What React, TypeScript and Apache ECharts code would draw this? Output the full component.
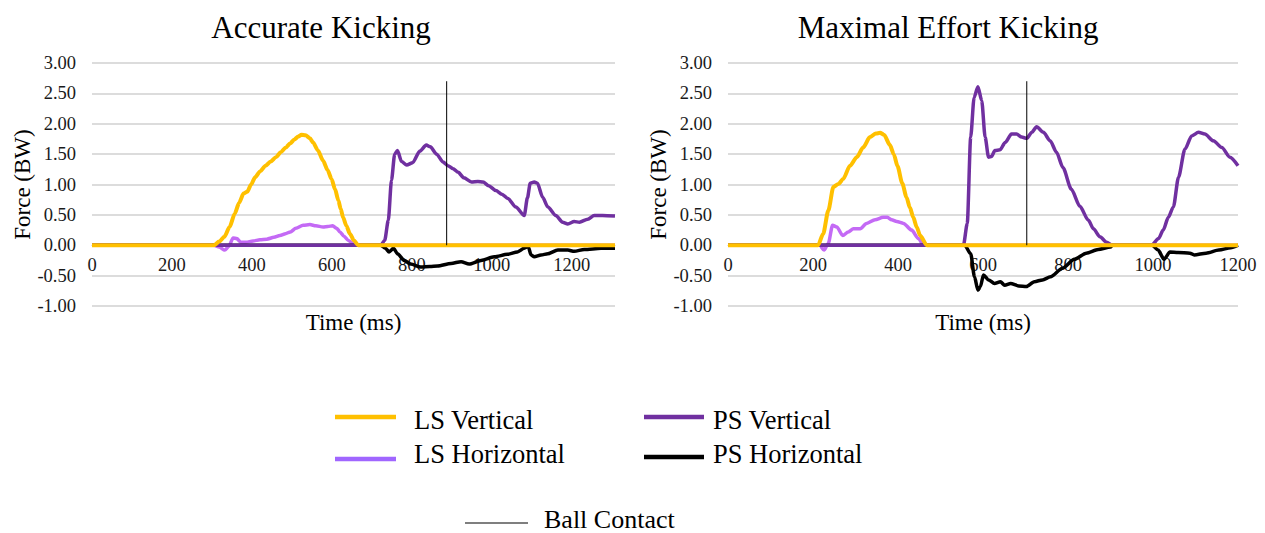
import React, { useEffect, useRef } from "react";
import * as echarts from "echarts";

// ---------- DATA ----------
const chartTitles = ["Accurate Kicking", "Maximal Effort Kicking"];
const seriesNames = ["LS Vertical", "LS Horizontal", "PS Vertical", "PS Horizontal"];
const ballContactName = "Ball Contact";
const xAxisName = "Time (ms)";
const yAxisName = "Force (BW)";
const xMaxAccurate = 1308;
const xMaxMaximal = 1200;

// Accurate kicking: [time ms, force BW]
const accLSV = [[0,0],[305,0],[318,0.06],[331,0.14],[344,0.3],[357,0.52],[368,0.7],[379,0.85],[388,0.88],[398,1.0],[408,1.12],[421,1.22],[434,1.31],[447,1.38],[460,1.45],[472,1.53],[485,1.61],[496,1.68],[506,1.74],[516,1.79],[524,1.82],[534,1.81],[545,1.76],[553,1.69],[565,1.56],[578,1.39],[589,1.24],[599,1.09],[608,0.92],[616,0.74],[622,0.6],[628,0.46],[636,0.32],[645,0.19],[655,0.08],[666,0],[1308,0]];
const accLSH = [[0,0],[305,0],[318,-0.03],[332,-0.08],[342,-0.02],[353,0.12],[362,0.11],[372,0.05],[385,0.05],[403,0.07],[420,0.09],[437,0.1],[455,0.13],[470,0.16],[484,0.19],[496,0.22],[510,0.28],[528,0.33],[545,0.34],[560,0.32],[578,0.3],[590,0.31],[602,0.32],[612,0.28],[620,0.22],[630,0.15],[641,0.08],[658,0],[1308,0]];
const accPSV = [[0,0],[722,0],[732,0.08],[741,0.41],[749,1.07],[757,1.5],[764,1.56],[774,1.38],[787,1.32],[802,1.36],[820,1.55],[836,1.65],[846,1.62],[862,1.5],[878,1.37],[890,1.31],[903,1.26],[916,1.2],[930,1.11],[949,1.04],[965,1.05],[978,1.04],[992,0.98],[1010,0.9],[1025,0.84],[1040,0.77],[1060,0.63],[1081,0.49],[1089,0.78],[1096,1.02],[1106,1.04],[1114,1.02],[1127,0.79],[1140,0.63],[1160,0.49],[1177,0.38],[1190,0.35],[1206,0.39],[1219,0.38],[1240,0.43],[1256,0.49],[1277,0.49],[1308,0.48]];
const accPSH = [[0,0],[722,0],[734,-0.05],[743,-0.11],[754,-0.05],[764,-0.14],[781,-0.25],[797,-0.31],[822,-0.36],[845,-0.35],[864,-0.34],[898,-0.3],[923,-0.27],[943,-0.31],[973,-0.25],[1006,-0.19],[1039,-0.15],[1064,-0.11],[1081,-0.05],[1091,-0.02],[1098,-0.16],[1106,-0.19],[1123,-0.16],[1140,-0.14],[1165,-0.08],[1190,-0.08],[1206,-0.1],[1231,-0.07],[1273,-0.05],[1308,-0.05]];
const accBallContact = 887;

// Maximal effort kicking
const maxLSV = [[0,0],[212,0],[224,0.19],[236,0.57],[248,0.96],[260,1.01],[271,1.09],[287,1.31],[303,1.45],[318,1.61],[334,1.78],[348,1.84],[358,1.85],[367,1.82],[381,1.65],[390,1.5],[399,1.3],[410,1.02],[420,0.79],[428,0.62],[436,0.46],[444,0.3],[452,0.16],[468,0],[1200,0]];
const maxLSH = [[0,0],[216,0],[226,-0.08],[236,0.03],[246,0.33],[256,0.3],[270,0.16],[283,0.22],[295,0.27],[311,0.27],[326,0.36],[346,0.42],[365,0.46],[375,0.46],[385,0.42],[397,0.39],[413,0.36],[432,0.25],[448,0.11],[460,0],[1200,0]];
const maxPSV = [[0,0],[554,0],[563,0.36],[571,1.78],[579,2.43],[588,2.61],[597,2.38],[605,1.78],[613,1.45],[620,1.46],[628,1.56],[640,1.57],[652,1.69],[667,1.83],[679,1.83],[691,1.78],[703,1.76],[715,1.86],[726,1.95],[742,1.86],[758,1.72],[773,1.53],[788,1.28],[808,0.92],[828,0.64],[848,0.41],[860,0.27],[875,0.14],[891,0.05],[903,0],[997,0],[1013,0.11],[1024,0.25],[1036,0.46],[1048,0.63],[1060,1.12],[1075,1.58],[1091,1.8],[1107,1.86],[1122,1.83],[1142,1.72],[1162,1.61],[1181,1.45],[1200,1.31]];
const maxPSH = [[0,0],[557,0],[571,-0.14],[580,-0.52],[588,-0.74],[594,-0.68],[601,-0.49],[613,-0.57],[627,-0.63],[641,-0.6],[651,-0.66],[665,-0.63],[684,-0.67],[702,-0.68],[721,-0.6],[740,-0.57],[759,-0.52],[787,-0.38],[815,-0.23],[843,-0.13],[871,-0.07],[900,-0.03],[904,0],[998,0],[1012,-0.08],[1026,-0.23],[1040,-0.11],[1059,-0.12],[1087,-0.13],[1097,-0.16],[1125,-0.13],[1155,-0.08],[1183,-0.04],[1200,0]];
const maxBallContact = 703;
const ballContactTop = 2.7;

// ---------- STYLE ----------
const FONT = "'Liberation Serif', 'Times New Roman', serif";
const C_LSV = "#FFC000";
const C_LSH = "#C46AF5";
const C_LSH_LEG = "#A066FF";
const C_PSV = "#7030A0";
const C_PSH = "#000000";

const GRID_TOP = 63;
const GRID_H = 243;
const Y_MIN = -1;
const Y_MAX = 3;
// shift x axis up so it sits on the zero line (labels follow)
const X_AXIS_OFFSET = -GRID_H * (0 - Y_MIN) / (Y_MAX - Y_MIN);

const TICK_SIZE = 18.5;
const tickRich = { t: { fontFamily: FONT, fontSize: TICK_SIZE, color: "#1a1a1a" } };

export default function App() {
  const ref = useRef<HTMLDivElement>(null);

  useEffect(() => {
    if (!ref.current) return;
    const chart = echarts.init(ref.current, undefined, { renderer: "svg" });

    const grids = [
      { left: 92, top: GRID_TOP, width: 523, height: GRID_H },
      { left: 728, top: GRID_TOP, width: 510, height: GRID_H },
    ];
    const xMaxes = [xMaxAccurate, xMaxMaximal];

    const xAxes = xMaxes.map((mx, i) => ({
      type: "value",
      gridIndex: i,
      position: "bottom",
      offset: X_AXIS_OFFSET,
      min: 0,
      max: mx,
      interval: 200,
      name: xAxisName,
      nameLocation: "middle",
      nameGap: 66,
      nameTextStyle: { fontFamily: FONT, fontSize: 23, color: "#000" },
      axisLine: { show: true, onZero: false, lineStyle: { color: "#BFBFBF" } },
      axisTick: { show: false },
      splitLine: { show: false },
      axisLabel: {
        fontFamily: FONT,
        fontSize: TICK_SIZE,
        color: "#1a1a1a",
        margin: 10,
        rich: tickRich,
        formatter: (v: number) => (v % 200 === 0 ? `{t|${v}}` : ""),
      },
    }));

    const yAxes = [0, 1].map((i) => ({
      type: "value",
      gridIndex: i,
      min: Y_MIN,
      max: Y_MAX,
      interval: 0.5,
      name: yAxisName,
      nameLocation: "middle",
      nameRotate: 90,
      nameGap: 58,
      nameTextStyle: { fontFamily: FONT, fontSize: 23, color: "#000" },
      axisLine: { show: false },
      axisTick: { show: false },
      splitLine: { show: true, lineStyle: { color: "#D0D0D0", width: 1.5 } },
      axisLabel: {
        fontFamily: FONT,
        fontSize: TICK_SIZE,
        color: "#1a1a1a",
        margin: 16,
        rich: tickRich,
        formatter: (v: number) => `{t|${v.toFixed(2)}}`,
      },
    }));

    const mk = (name: string, data: number[][], color: string, idx: number, width: number) => ({
      name,
      type: "line",
      xAxisIndex: idx,
      yAxisIndex: idx,
      data,
      showSymbol: false,
      symbol: "none",
      smooth: 0.25,
      smoothMonotone: "x",
      lineStyle: { color, width },
      itemStyle: { color },
    });

    const sets = [
      [accLSV, accLSH, accPSV, accPSH, accBallContact],
      [maxLSV, maxLSH, maxPSV, maxPSH, maxBallContact],
    ] as any[];

    const series: any[] = [];
    sets.forEach((s, idx) => {
      series.push(mk(seriesNames[1], s[1], C_LSH, idx, 3.5));
      series.push(mk(seriesNames[3], s[3], C_PSH, idx, 3.5));
      series.push(mk(seriesNames[2], s[2], C_PSV, idx, 3.5));
      series.push(mk(seriesNames[0], s[0], C_LSV, idx, 4));
      series.push({
        name: ballContactName,
        type: "line",
        xAxisIndex: idx,
        yAxisIndex: idx,
        data: [[s[4], 0], [s[4], ballContactTop]],
        showSymbol: false,
        symbol: "none",
        lineStyle: { color: "#000", width: 1 },
      });
    });

    const legendText = (text: string, x: number, y: number, size = 26.5) => ({
      type: "text",
      x,
      y,
      style: {
        text,
        fontFamily: FONT,
        fontSize: size,
        fill: "#000",
        textAlign: "left",
        textVerticalAlign: "middle",
      },
    });
    const legendLine = (x: number, y: number, w: number, h: number, color: string) => ({
      type: "rect",
      shape: { x, y: y - h / 2, width: w, height: h },
      style: { fill: color },
    });

    const graphic: any[] = [
      {
        type: "text",
        x: 321,
        y: 27,
        style: { text: chartTitles[0], fontFamily: FONT, fontSize: 31, fill: "#000", textAlign: "center", textVerticalAlign: "middle" },
      },
      {
        type: "text",
        x: 948,
        y: 27,
        style: { text: chartTitles[1], fontFamily: FONT, fontSize: 31, fill: "#000", textAlign: "center", textVerticalAlign: "middle" },
      },
      legendLine(335, 417, 61, 4.5, C_LSV),
      legendText(seriesNames[0], 414, 420),
      legendLine(335, 459, 61, 4.5, C_LSH_LEG),
      legendText(seriesNames[1], 414, 454),
      legendLine(644, 417, 60, 4.5, C_PSV),
      legendText(seriesNames[2], 713, 420),
      legendLine(644, 457, 60, 4.5, C_PSH),
      legendText(seriesNames[3], 713, 454),
      legendLine(465, 523, 63, 1.2, "#000"),
      legendText(ballContactName, 544, 519, 26),
    ];

    chart.setOption({
      animation: false,
      backgroundColor: "#ffffff",
      textStyle: { fontFamily: FONT },
      grid: grids,
      xAxis: xAxes,
      yAxis: yAxes,
      series,
      graphic,
    });

    return () => chart.dispose();
  }, []);

  return (
    <div
      ref={ref}
      style={{ position: "fixed", left: 0, top: 0, width: 1265, height: 533, background: "#fff" }}
    />
  );
}
